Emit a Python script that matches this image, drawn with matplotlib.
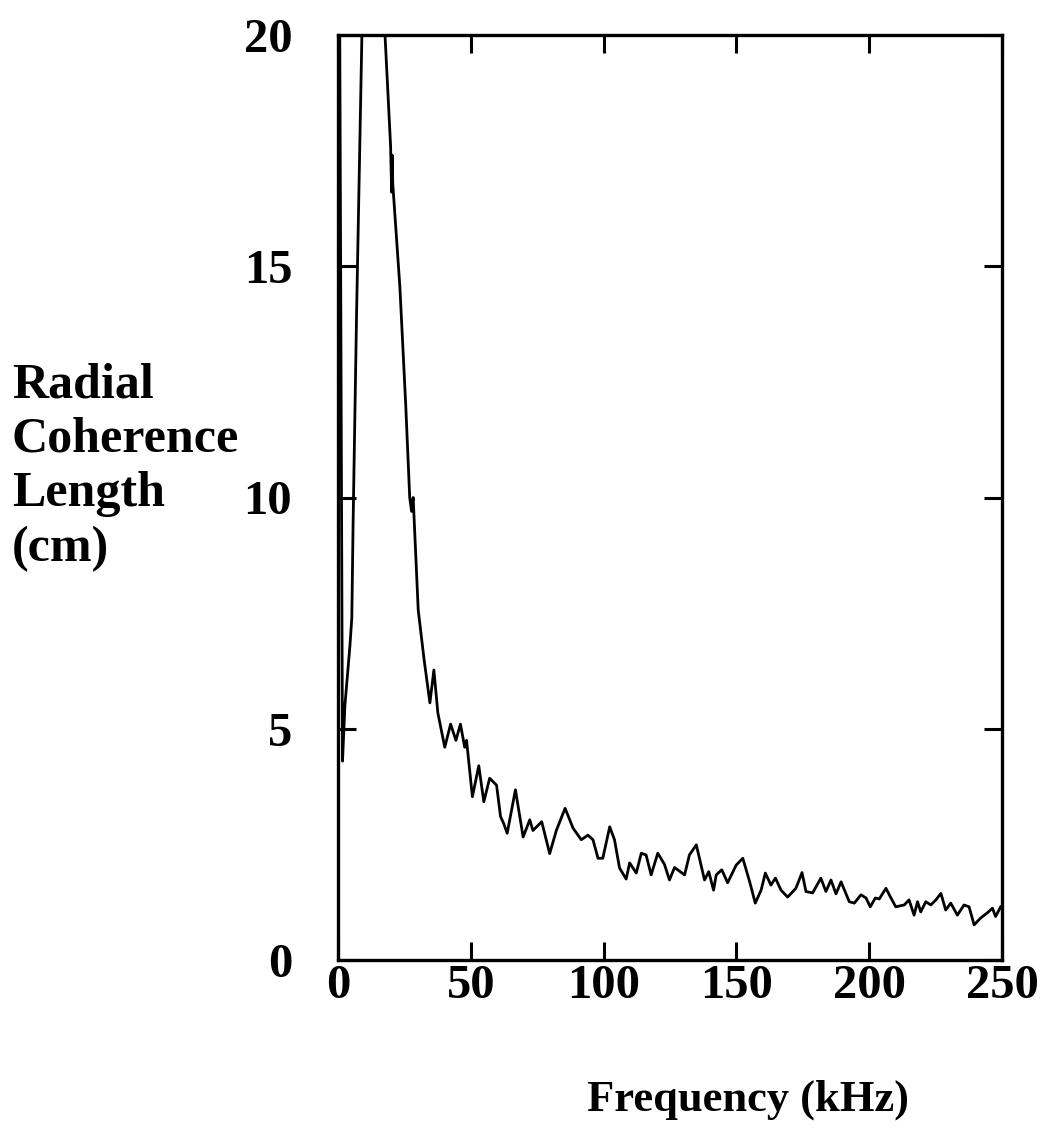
import matplotlib
matplotlib.use("Agg")
import matplotlib.pyplot as plt

freq_khz = [0.6, 1.7, 2.6, 4.5, 5.2, 5.7, 7.0, 9.0, 13.0, 17.7, 19.8, 20.2, 20.4, 20.6, 23.3, 25.5, 27.0, 27.7, 28.3,
            30.2, 32.4, 34.6, 36.1, 37.6, 40.2, 42.4, 44.4, 46.1, 47.7, 48.4,
            50.6, 53.0, 54.9, 57.1, 59.7, 61.2, 62.4, 63.7, 66.8, 69.7, 72.2, 73.4,
            76.7, 79.7, 82.2, 85.5, 88.5, 91.6, 94.1, 96.0, 97.9, 99.7, 102.3, 104.1,
            106.0, 108.5, 109.8, 112.3, 114.2, 116.0, 117.9, 120.4, 122.9, 124.8, 126.7,
            130.5, 132.3, 134.9, 138.0, 139.6, 141.4, 142.4, 144.5, 146.7, 149.9, 152.4,
            155.1, 157.1, 159.3, 160.9, 163.0, 164.7, 166.8, 169.3, 172.4, 174.7, 176.2,
            178.7, 181.8, 183.7, 185.6, 187.5, 189.4, 192.5, 194.4, 196.9, 198.8, 200.4,
            202.3, 203.8, 206.3, 208.2, 210.0, 213.2, 215.0, 216.9, 218.2, 219.4, 221.3,
            223.2, 225.1, 227.0, 228.8, 230.7, 233.2, 235.7, 237.6, 239.5, 242.0, 244.5,
            246.4, 247.6, 249.5]
coherence_cm = [21.0, 4.3, 5.5, 6.8, 7.4, 9.5, 14.0, 20.0, 24.0, 20.0, 17.6, 16.6, 17.4, 16.8, 14.55, 12.0, 10.0, 9.7, 10.0,
                7.57, 6.5, 5.56, 6.27, 5.34, 4.6, 5.1, 4.75, 5.1, 4.6, 4.75,
                3.53, 4.2, 3.42, 3.93, 3.78, 3.1, 2.95, 2.74, 3.68, 2.66, 3.03, 2.8,
                2.99, 2.3, 2.8, 3.28, 2.85, 2.6, 2.7, 2.6, 2.2, 2.2, 2.88, 2.6,
                1.99, 1.75, 2.1, 1.88, 2.31, 2.27, 1.84, 2.31, 2.07, 1.73, 2.0,
                1.84, 2.27, 2.49, 1.73, 1.91, 1.51, 1.84, 1.95, 1.67, 2.05, 2.2,
                1.67, 1.23, 1.51, 1.88, 1.62, 1.77, 1.51, 1.36, 1.55, 1.89, 1.48,
                1.45, 1.77, 1.48, 1.73, 1.43, 1.69, 1.26, 1.23, 1.41, 1.34, 1.15,
                1.34, 1.32, 1.55, 1.34, 1.15, 1.19, 1.3, 0.97, 1.26, 1.04, 1.26,
                1.19, 1.3, 1.44, 1.08, 1.23, 0.97, 1.19, 1.15, 0.76, 0.91, 1.02,
                1.12, 0.94, 1.15]

x_ticks = [0, 50, 100, 150, 200, 250]
y_ticks = [0, 5, 10, 15, 20]

W, H = 1049, 1145
fig = plt.figure(figsize=(W / 100, H / 100), dpi=100)
ax = fig.add_axes([338 / W, (H - 960) / H, 664 / W, 925 / H])

ax.plot(freq_khz, coherence_cm, color="black", lw=2.0, solid_joinstyle="round")
ax.set_xlim(0, 250)
ax.set_ylim(0, 20)

tick_font = dict(family="Liberation Serif", weight="bold", size=35)
ax.set_xticks(x_ticks)
ax.set_yticks(y_ticks)
ax.set_xticklabels([str(v) for v in x_ticks], **tick_font)
ax.set_yticklabels([str(v) for v in y_ticks], **tick_font)
ax.tick_params(axis="both", direction="in", length=13, width=2.2,
               top=True, right=True, color="black")
ax.tick_params(axis="x", pad=3)
ax.tick_params(axis="y", pad=33)
for s in ax.spines.values():
    s.set_linewidth(2.4)

fig.text(748 / W, 1 - 1100 / H, "Frequency (kHz)", ha="center", va="center",
         family="Liberation Serif", weight="bold", size=32)
fig.text(12 / W, 1 - 467 / H, "Radial\nCoherence\nLength\n(cm)", ha="left", va="center",
         linespacing=1.24, family="Liberation Serif", weight="bold", size=36)

fig.savefig("out.png", dpi=100)
